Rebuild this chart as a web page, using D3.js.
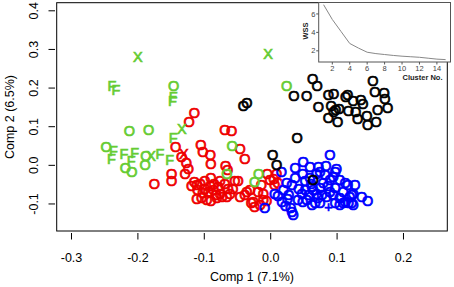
<!DOCTYPE html>
<html><head><meta charset="utf-8">
<script src="https://cdn.jsdelivr.net/npm/d3@7"></script>
<style>body{margin:0;background:#fff}svg{display:block}</style>
</head><body><svg id="c" width="454" height="287"></svg>
<script>
// ---- data ----
const xTicks = [-0.3, -0.2, -0.1, 0.0, 0.1, 0.2];
const yTicks = [-0.1, 0.0, 0.1, 0.2, 0.3, 0.4];
const xTitle = "Comp 1 (7.1%)";
const yTitle = "Comp 2 (6.5%)";

const redPoints = [
 [-0.115,0.137,"O"],[-0.123,0.113,"O"],[-0.069,0.091,"O"],[-0.059,0.090,"O"],
 [-0.143,0.047,"O"],[-0.134,0.023,"O"],[-0.127,0.006,"O"],[-0.124,-0.010,"O"],
 [-0.129,-0.021,"O"],[-0.149,-0.021,"O"],[-0.149,-0.039,"O"],[-0.175,-0.047,"O"],
 [-0.105,0.053,"O"],[-0.102,0.034,"O"],[-0.091,0.027,"O"],[-0.090,0.003,"O"],
 [-0.046,0.044,"O"],[-0.039,0.016,"O"],[-0.068,-0.002,"O"],[-0.090,-0.031,"O"],
 [-0.049,-0.041,"O"],[-0.065,-0.012,"O"],[-0.115,-0.042,"O"],[-0.106,-0.047,"O"],
 [-0.111,-0.050,"O"],[-0.099,-0.060,"O"],[-0.094,-0.068,"O"],[-0.086,-0.064,"O"],
 [-0.076,-0.073,"O"],[-0.069,-0.047,"O"],[-0.064,-0.060,"O"],[-0.104,-0.085,"O"],
 [-0.096,-0.090,"O"],[-0.081,-0.085,"O"],[-0.046,-0.081,"O"],[-0.031,-0.063,"O"],
 [-0.036,-0.068,"O"],[-0.039,-0.077,"O"],[-0.026,-0.094,"O"],[-0.024,-0.107,"O"],
 [-0.016,-0.103,"O"],[-0.011,-0.090,"O"],[-0.006,-0.092,"O"],[-0.005,-0.021,"O"],
 [-0.001,-0.038,"O"],[0.005,-0.036,"O"],[0.009,-0.021,"O"],[0.006,-0.051,"O"],
 [0.011,-0.045,"O"],[-0.014,-0.051,"O"],[-0.019,-0.068,"O"],[-0.011,-0.073,"O"],
 [-0.029,-0.098,"O"],[-0.119,-0.054,"O"],[-0.110,-0.064,"O"],[-0.102,-0.072,"O"],
 [-0.091,-0.054,"O"],[-0.085,-0.047,"O"],[-0.079,-0.056,"O"],[-0.073,-0.082,"O"],
 [-0.061,-0.073,"O"],[-0.057,-0.060,"O"],[-0.111,-0.087,"O"],[-0.090,-0.092,"O"],
 [-0.054,-0.041,"O"],[-0.076,-0.041,"O"],[-0.066,-0.082,"O"],[-0.082,-0.077,"O"],
 [-0.099,-0.041,"O"],[-0.131,0.030,"X"]
];
const bluePoints = [
 [0.089,0.027,"O"],[0.049,0.010,"O"],[0.059,-0.004,"O"],[0.072,-0.003,"O"],
 [0.083,-0.002,"O"],[0.099,-0.010,"O"],[0.097,-0.017,"O"],[0.048,-0.021,"O"],
 [0.069,-0.021,"O"],[0.074,-0.017,"O"],[0.082,-0.025,"O"],[0.094,-0.030,"O"],
 [0.016,-0.017,"O"],[0.024,-0.045,"O"],[0.052,-0.041,"O"],[0.061,-0.047,"O"],
 [0.079,-0.045,"O"],[0.112,-0.046,"O"],[0.006,-0.073,"O"],[0.019,-0.064,"O"],
 [0.027,-0.076,"O"],[0.042,-0.060,"O"],[0.047,-0.073,"O"],[-0.009,-0.111,"O"],
 [0.030,-0.111,"O"],[0.032,-0.120,"O"],[0.034,-0.129,"O"],[0.017,-0.094,"O"],
 [0.025,-0.086,"O"],[0.048,-0.094,"O"],[0.057,-0.077,"O"],[0.067,-0.098,"O"],
 [0.074,-0.098,"O"],[0.087,-0.107,"+"],[0.094,-0.077,"O"],[0.104,-0.085,"O"],
 [0.109,-0.098,"O"],[0.117,-0.098,"O"],[0.122,-0.098,"O"],[0.124,-0.073,"O"],
 [0.109,-0.068,"O"],[0.146,-0.092,"O"],[0.112,-0.094,"O"],[0.122,-0.077,"O"],
 [0.124,-0.103,"O"],[0.062,-0.055,"O"],[0.069,-0.073,"O"],[0.084,-0.081,"O"],
 [0.054,-0.090,"O"],[0.062,-0.103,"O"],[0.097,-0.098,"O"],[0.104,-0.103,"O"],
 [0.119,-0.081,"O"],[0.037,-0.033,"O"],[0.032,-0.051,"O"],[0.052,-0.064,"O"],
 [0.064,-0.064,"O"],[0.074,-0.059,"O"],[0.086,-0.054,"O"],[0.097,-0.059,"O"],
 [0.104,-0.038,"O"],[0.089,-0.038,"O"],[0.077,-0.077,"O"],[0.089,-0.069,"O"],
 [0.041,-0.090,"O"],[0.059,-0.033,"O"],[0.037,-0.007,"O"],[0.127,-0.051,"O"],
 [0.137,-0.082,"O"],[0.011,-0.080,"O"],[0.022,-0.105,"O"],[0.116,-0.051,"O"],
 [0.071,-0.085,"O"]
];
const blackPoints = [
 [0.063,0.225,"O"],[0.070,0.207,"O"],[0.035,0.181,"O"],[0.054,0.180,"O"],
 [-0.041,0.154,"O"],[-0.036,0.162,"O"],[0.072,0.152,"O"],[0.087,0.183,"O"],
 [0.095,0.185,"O"],[0.091,0.154,"O"],[0.098,0.145,"O"],[0.095,0.139,"O"],
 [0.103,0.146,"O"],[0.087,0.123,"O"],[0.101,0.112,"O"],[0.113,0.178,"O"],
 [0.116,0.183,"O"],[0.124,0.166,"O"],[0.136,0.170,"O"],[0.139,0.160,"O"],
 [0.117,0.142,"O"],[0.128,0.139,"O"],[0.131,0.121,"O"],[0.145,0.128,"O"],
 [0.146,0.106,"O"],[0.159,0.113,"O"],[0.161,0.143,"O"],[0.154,0.219,"O"],
 [0.157,0.190,"O"],[0.171,0.189,"O"],[0.172,0.171,"O"],[0.176,0.150,"O"],
 [0.040,0.072,"O"],[0.003,0.027,"O"],[0.009,0.001,"O"],[0.064,-0.037,"O"]
];
const greenPoints = [
 [-0.200,0.280,"X"],[-0.239,0.205,"F"],[-0.233,0.195,"F"],[-0.146,0.205,"O"],
 [-0.147,0.178,"F"],[-0.148,0.167,"F"],[-0.213,0.090,"O"],[-0.184,0.091,"O"],
 [-0.134,0.095,"X"],[-0.147,0.072,"F"],[-0.248,0.047,"O"],[-0.237,0.037,"F"],
 [-0.240,0.016,"F"],[-0.221,0.030,"F"],[-0.205,0.032,"F"],[-0.210,0.013,"F"],
 [-0.219,-0.006,"O"],[-0.209,-0.017,"O"],[-0.188,0.024,"O"],[-0.180,0.025,"X"],
 [-0.189,0.001,"O"],[-0.167,0.029,"F"],[-0.152,0.014,"F"],[-0.004,0.288,"X"],
 [0.024,0.207,"O"],[-0.058,0.051,"O"],[-0.066,-0.021,"O"],[-0.018,-0.021,"O"],
 [-0.024,-0.042,"O"]
];
const groupColors = {red:"#ee0000", blue:"#0000ff", black:"#000000", green:"#66cc33"};

// inset (elbow plot)
const clusterNo = [1,2,3,4,5,6,7,8,9,10,11,12,13,14,15];
const wss = [7.0,5.4,4.1,2.8,2.3,1.85,1.7,1.6,1.5,1.42,1.36,1.3,1.2,1.1,1.05];
const insetXTicks = [2,4,6,8,10,12,14];
const insetYTicks = [2,4,6];

// ---- drawing ----
const svg = d3.select("#c");
const FONT = "'Liberation Sans', Arial, Helvetica, sans-serif";
const x = d3.scaleLinear().domain([-0.3223, 0.266]).range([56.7, 447.3]);
const y = d3.scaleLinear().domain([-0.170, 0.421]).range([231, 2.7]);

svg.append("rect").attr("width",454).attr("height",287).attr("fill","#fff");

// x axis ticks + labels
const xa = svg.append("g");
xa.selectAll("line").data(xTicks).join("line")
  .attr("x1",d=>x(d)).attr("x2",d=>x(d)).attr("y1",233).attr("y2",239.5)
  .attr("stroke","#000").attr("stroke-width",1);
xa.selectAll("text").data(xTicks).join("text")
  .attr("x",d=>x(d)).attr("y",261.5).attr("text-anchor","middle")
  .attr("font-family",FONT).attr("font-size",12.5).text(d=>d.toFixed(1));
// y axis
const ya = svg.append("g");
ya.selectAll("line").data(yTicks).join("line")
  .attr("x1",48.5).attr("x2",55).attr("y1",d=>y(d)).attr("y2",d=>y(d))
  .attr("stroke","#000").attr("stroke-width",1);
ya.selectAll("text").data(yTicks).join("text")
  .attr("transform",d=>`translate(37.5,${y(d)}) rotate(-90)`)
  .attr("text-anchor","middle")
  .attr("font-family",FONT).attr("font-size",12.5).text(d=>d.toFixed(1));

svg.append("text").attr("x",252).attr("y",280.5).attr("text-anchor","middle")
  .attr("font-family",FONT).attr("font-size",12.5).text(xTitle);
svg.append("text").attr("transform","translate(13.5,117) rotate(-90)").attr("text-anchor","middle")
  .attr("font-family",FONT).attr("font-size",12.5).text(yTitle);

// points
function drawGroup(pts, color){
  svg.append("g").selectAll("text").data(pts).join("text")
    .attr("x",d=>x(d[0])).attr("y",d=>y(d[1]))
    .attr("text-anchor","middle").attr("dy","0.36em")
    .attr("font-family",FONT).attr("font-size",14.5)
    .attr("fill",color).attr("stroke",color).attr("stroke-width",0.7)
    .text(d=>d[2]);
}
drawGroup(redPoints, groupColors.red);
drawGroup(bluePoints, groupColors.blue);
drawGroup(blackPoints, groupColors.black);
drawGroup(greenPoints, groupColors.green);

// main box
svg.append("rect").attr("x",x.range()[0]).attr("y",y.range()[1])
  .attr("width",x.range()[1]-x.range()[0]).attr("height",y.range()[0]-y.range()[1])
  .attr("fill","none").attr("stroke","#000").attr("stroke-width",1);

// inset
const ix = d3.scaleLinear().domain([0.44,15.56]).range([318.7,450.5]);
const iy = d3.scaleLinear().domain([0.79,7.24]).range([62,2.5]);
const ig = svg.append("g");
ig.append("rect").attr("x",318.7).attr("y",2.5).attr("width",450.5-318.7).attr("height",62-2.5)
  .attr("fill","#fff").attr("stroke","#555").attr("stroke-width",1);
ig.append("path").datum(clusterNo.map((c,i)=>[c,wss[i]]))
  .attr("d",d3.line().x(d=>ix(d[0])).y(d=>iy(d[1])))
  .attr("fill","none").attr("stroke","#888").attr("stroke-width",1);
ig.selectAll(".xt").data(insetXTicks).join("line")
  .attr("x1",d=>ix(d)).attr("x2",d=>ix(d)).attr("y1",62).attr("y2",64.5)
  .attr("stroke","#555");
ig.selectAll(".xl").data(insetXTicks).join("text")
  .attr("x",d=>ix(d)).attr("y",70.5).attr("text-anchor","middle")
  .attr("font-family",FONT).attr("font-size",7.5).attr("fill","#444").text(d=>d);
ig.selectAll(".yt").data(insetYTicks).join("line")
  .attr("x1",316.2).attr("x2",318.7).attr("y1",d=>iy(d)).attr("y2",d=>iy(d))
  .attr("stroke","#555");
ig.selectAll(".yl").data(insetYTicks).join("text")
  .attr("x",315.5).attr("y",d=>iy(d)).attr("dy","0.35em").attr("text-anchor","end")
  .attr("font-family",FONT).attr("font-size",7.5).attr("fill","#444").text(d=>d);
ig.append("text").attr("x",422.5).attr("y",80).attr("text-anchor","middle")
  .attr("font-family",FONT).attr("font-size",7.5).attr("font-weight","bold").attr("fill","#222")
  .text("Cluster No.");
ig.append("text").attr("transform","translate(307.5,31) rotate(-90)").attr("text-anchor","middle")
  .attr("font-family",FONT).attr("font-size",7.5).attr("font-weight","bold").attr("fill","#222")
  .text("WSS");
</script></body></html>
